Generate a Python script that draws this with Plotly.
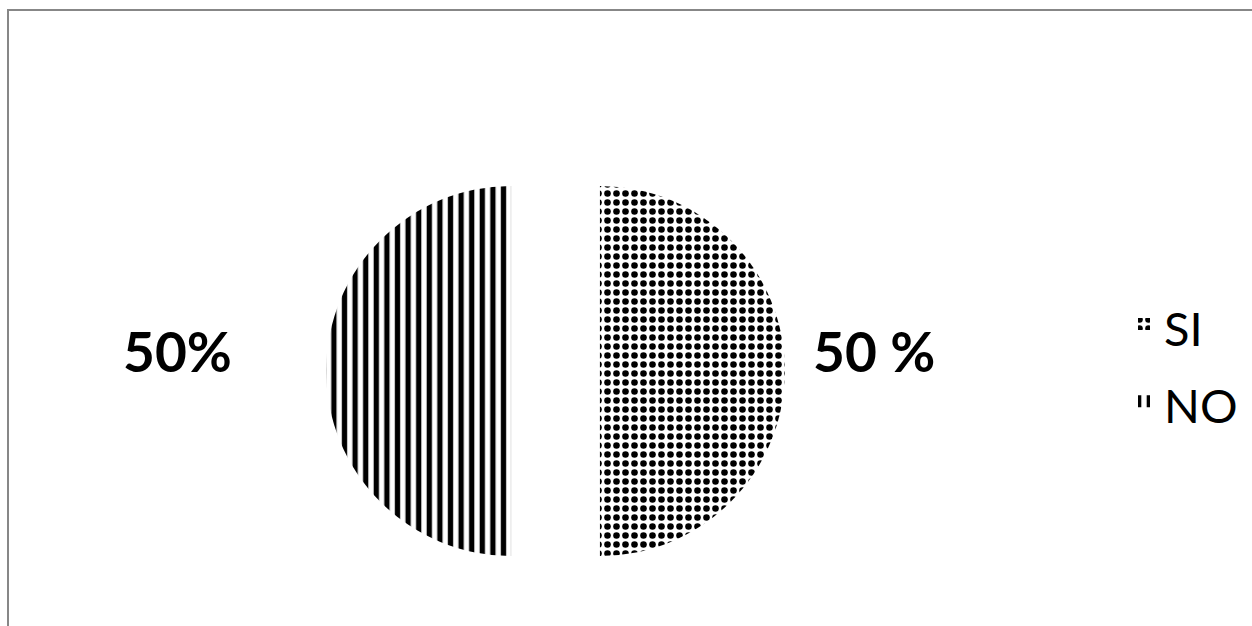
import plotly.graph_objects as go

categories = ["SI", "NO"]
values = [50, 50]
slice_labels = ["50 %", "50%"]
patterns = [".", "|"]

W, H = 1252, 626

legend_names = ["<span style='font-size:47px'>%s</span>" % c for c in categories]

fig = go.Figure()
fig.add_trace(go.Pie(
    labels=legend_names,
    values=values,
    sort=False,
    direction="clockwise",
    rotation=0,
    pull=[0.24, 0.24],
    textinfo="none",
    hoverinfo="label+percent",
    marker=dict(
        colors=["white", "white"],
        line=dict(width=0),
        pattern=dict(shape=patterns, fgcolor="black", bgcolor="white",
                     fgopacity=1, size=[9, 10.6], solidity=[0.42, 0.5],
                     fillmode="overlay"),
    ),
    domain=dict(x=[0.2041, 0.6833], y=[0.0409, 0.7738]),
))

# Data labels placed beside each slice
label_pos = {"SI": (873.5, 351), "NO": (177, 351)}
annotations = []
for cat, txt in zip(categories, slice_labels):
    px, py = label_pos[cat]
    annotations.append(dict(
        text=txt, x=px / W, y=1 - py / H, xref="paper", yref="paper",
        xanchor="center", yanchor="middle", showarrow=False,
        font=dict(family="Lato", size=55, color="black", weight="bold"),
    ))

fig.update_layout(
    width=W, height=H,
    margin=dict(l=0, r=0, t=0, b=0),
    paper_bgcolor="white",
    plot_bgcolor="white",
    showlegend=True,
    legend=dict(
        x=1124 / W, y=1 - 363 / H, xanchor="left", yanchor="middle",
        font=dict(family="Lato", size=57, color="black"),
        bgcolor="rgba(0,0,0,0)",
    ),
    annotations=annotations,
    shapes=[dict(type="rect", xref="paper", yref="paper",
                 x0=8 / W, x1=1.05, y0=-0.05, y1=1 - 10 / H,
                 line=dict(color="#878787", width=2), fillcolor="rgba(0,0,0,0)",
                 layer="below")],
)

fig.write_html("out.html")
